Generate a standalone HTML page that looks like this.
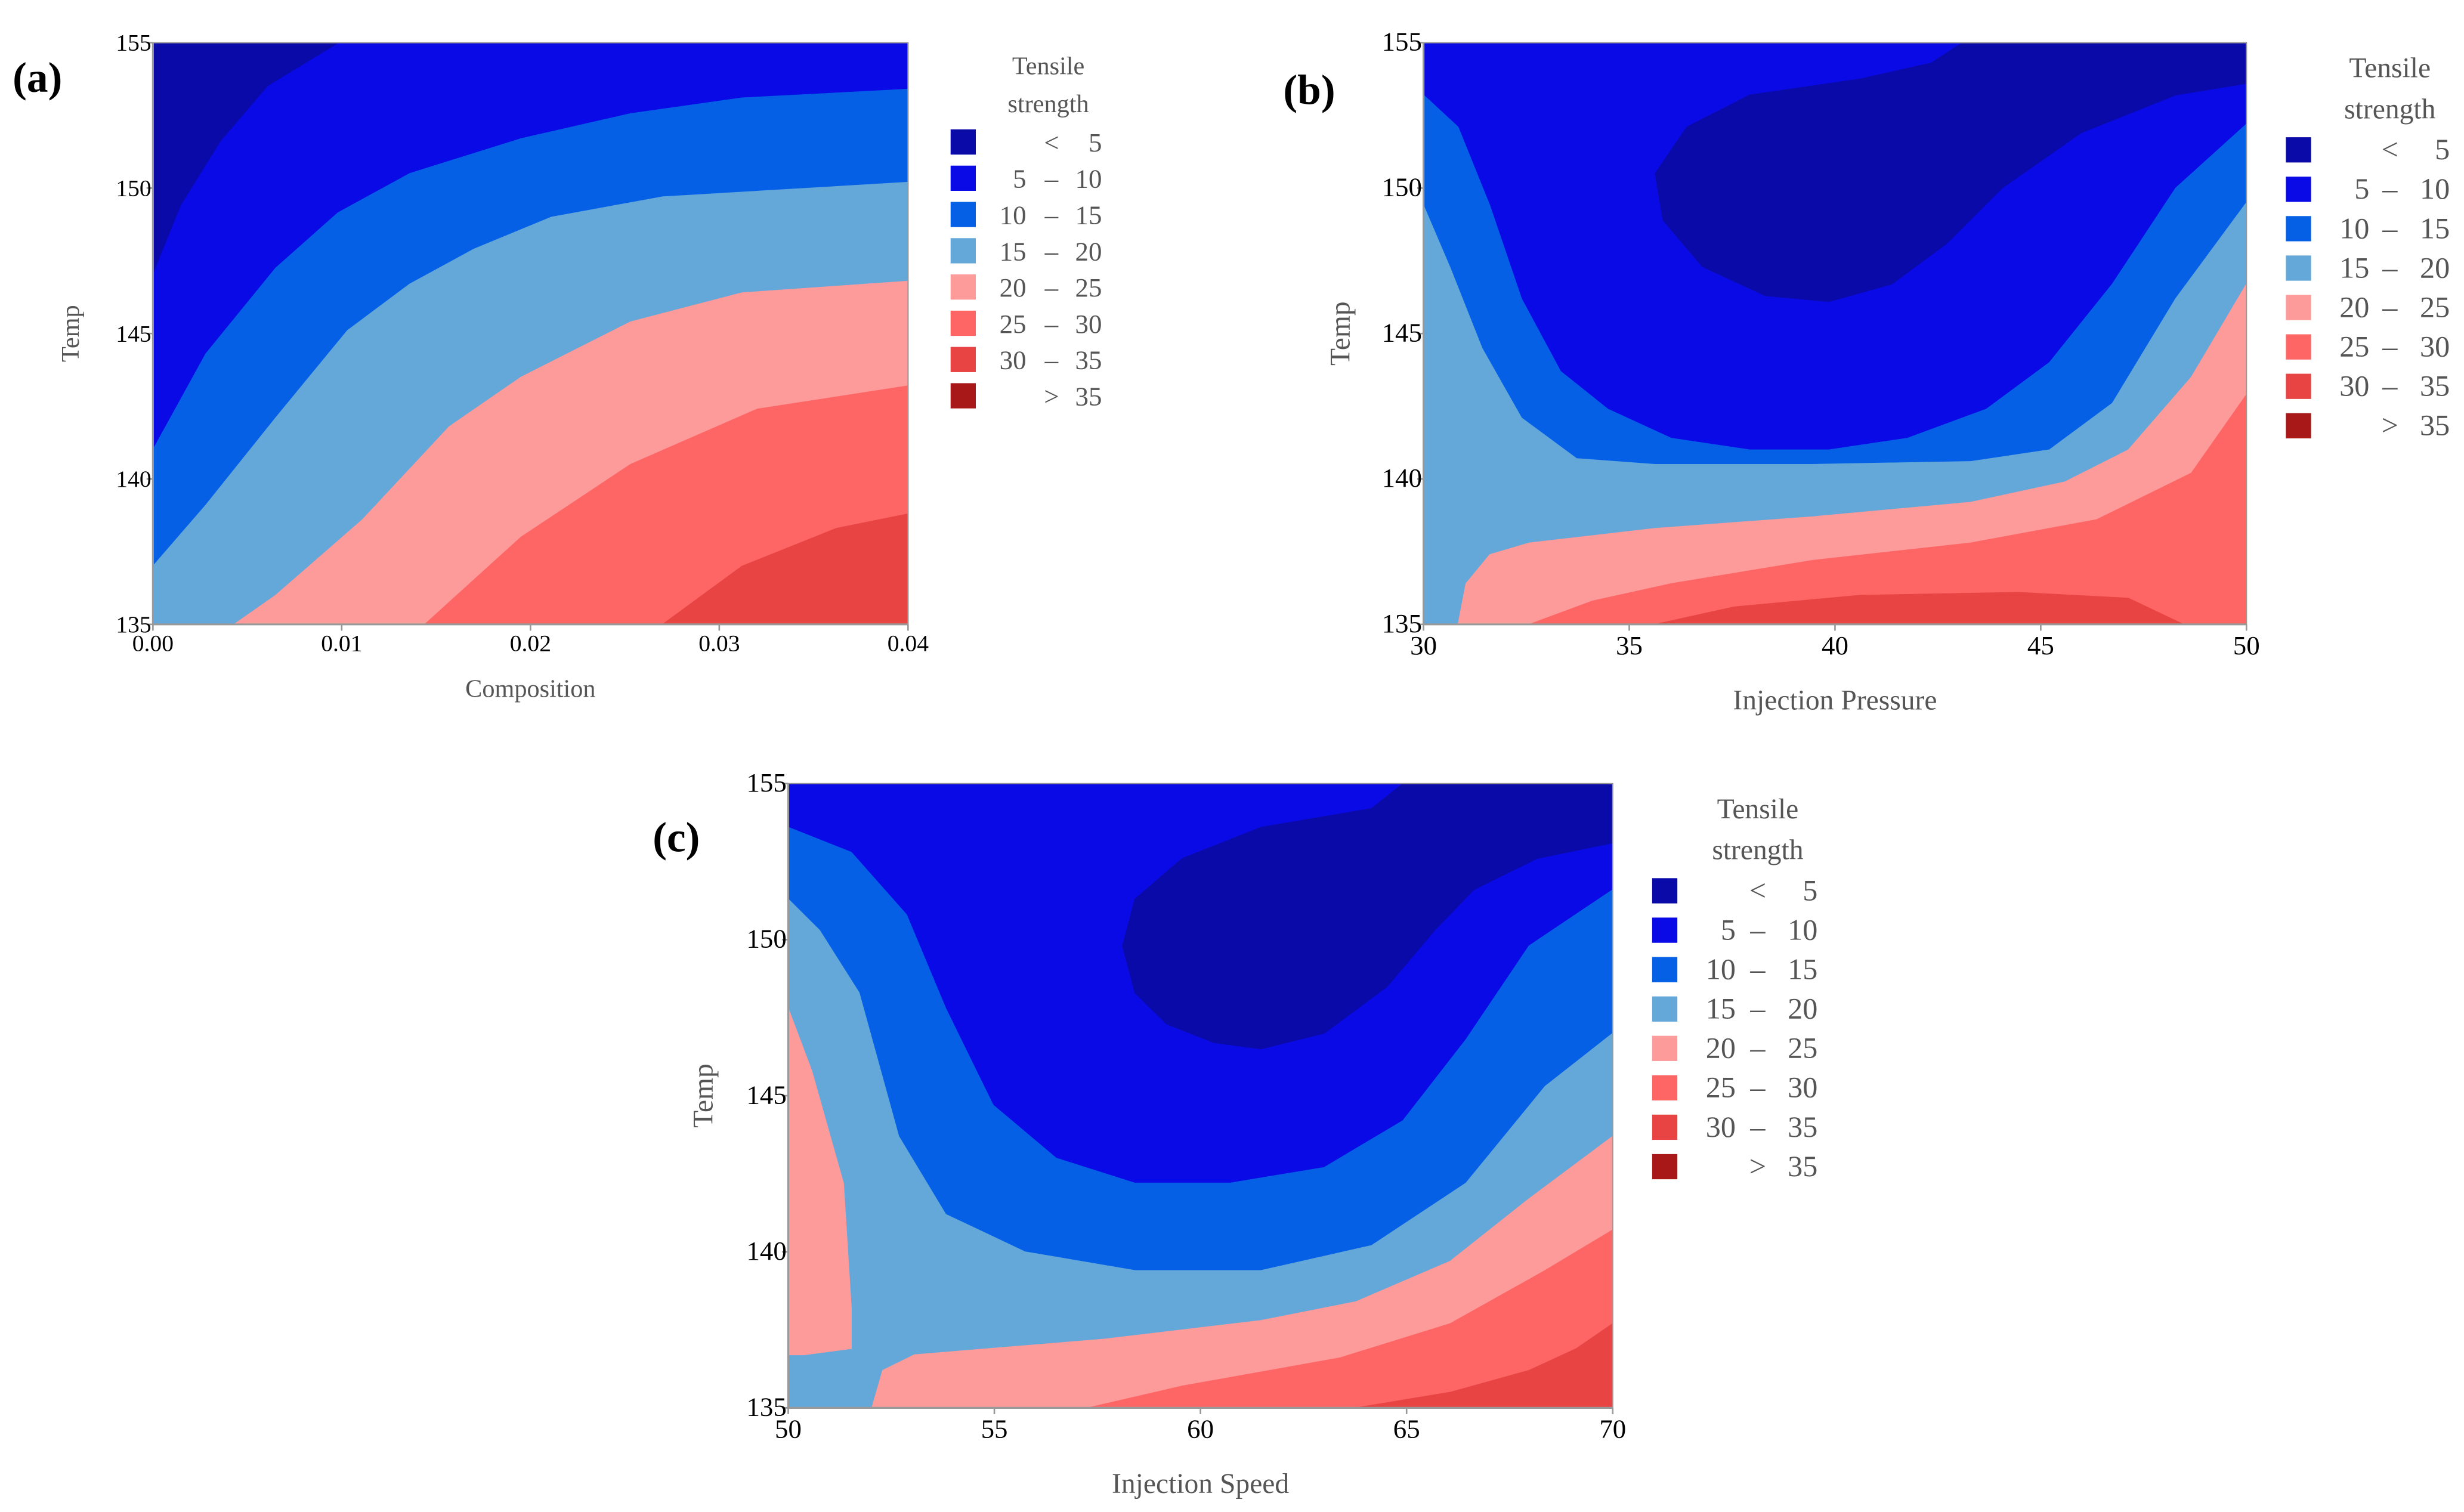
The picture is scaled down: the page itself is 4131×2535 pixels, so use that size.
<!DOCTYPE html>
<html><head><meta charset="utf-8"><style>
html,body{margin:0;padding:0;background:#fff}
svg{display:block}
text{font-family:"Liberation Serif",serif}
</style></head><body>
<svg id="fig" xmlns="http://www.w3.org/2000/svg" width="4131" height="2535" viewBox="0 0 1563 959">
<rect width="1563" height="959" fill="#fff"/>
</svg>
<script>
// ---- shared data ----
const levelColors = ["#0a0aa8","#0a0ae6","#0560e6","#64a8da","#fd9a9a","#fe6666","#e84444","#a81818"];
const legendLo = ["<","5","10","15","20","25","30",">"];
const legendHi = ["5","10","15","20","25","30","35","35"];
const tempTicks = [135,140,145,150,155];

// ---- panel (a) ----
const aXTicks = [0,0.01,0.02,0.03,0.04];
const aXTickLabels = ["0.00","0.01","0.02","0.03","0.04"];
const aLevel5 = [[0,147.0],[0.0015,149.4],[0.0036,151.6],[0.0061,153.5],[0.0099,155],[0.04,155],[0.04,135],[0,135]];
const aLevel10 = [[0,141.0],[0.0028,144.3],[0.0065,147.25],[0.0098,149.15],[0.0136,150.5],[0.0195,151.7],[0.0253,152.56],[0.0312,153.1],[0.04,153.4],[0.04,135],[0,135]];
const aLevel15 = [[0,137.0],[0.0028,139.1],[0.0065,142.1],[0.0103,145.1],[0.0136,146.7],[0.017,147.9],[0.0211,149.0],[0.027,149.7],[0.04,150.2],[0.04,135],[0,135]];
const aLevel20 = [[0.0043,135],[0.0065,136.0],[0.0111,138.6],[0.0157,141.8],[0.0195,143.5],[0.0253,145.4],[0.0312,146.4],[0.04,146.8],[0.04,135]];
const aLevel25 = [[0.0144,135],[0.0195,138.0],[0.0253,140.5],[0.032,142.4],[0.04,143.2],[0.04,135]];
const aLevel30 = [[0.027,135],[0.0312,137.0],[0.0362,138.3],[0.04,138.8],[0.04,135]];

// ---- panel (b) ----
const bXTicks = [30,35,40,45,50];
const bXTickLabels = ["30","35","40","45","50"];
const bDark = [[35.63,150.5],[35.82,148.9],[36.78,147.3],[38.31,146.3],[39.85,146.1],[41.38,146.7],[42.72,148.1],[44.06,150.0],[45.98,151.9],[48.28,153.2],[50,153.6],[50,155],[43.1,155],[42.34,154.3],[40.61,153.75],[37.93,153.2],[36.4,152.1]];
const bLevel10 = [[30,153.2],[30.84,152.1],[31.61,149.4],[32.38,146.2],[33.33,143.7],[34.48,142.4],[36.02,141.4],[37.93,141.0],[39.85,141.0],[41.76,141.4],[43.68,142.4],[45.21,144.0],[46.74,146.7],[48.28,150.0],[50,152.2],[50,135],[30,135]];
const bLevel15 = [[30,149.4],[30.65,147.25],[31.42,144.5],[32.38,142.1],[33.72,140.7],[35.63,140.5],[39.46,140.5],[43.3,140.6],[45.21,141.0],[46.74,142.6],[48.28,146.2],[50,149.5],[50,135],[30,135]];
const bLevel20 = [[30.84,135],[31.03,136.4],[31.61,137.4],[32.57,137.8],[35.63,138.3],[39.46,138.7],[43.3,139.2],[45.59,139.9],[47.13,141.0],[48.66,143.5],[50,146.7],[50,135]];
const bLevel25 = [[32.57,135],[34.1,135.8],[36.02,136.4],[39.46,137.2],[43.3,137.8],[46.36,138.6],[48.66,140.2],[50,142.9],[50,135]];
const bLevel30 = [[35.63,135],[37.55,135.6],[40.61,136.0],[44.45,136.1],[47.13,135.9],[48.47,135]];

// ---- panel (c) ----
const cXTicks = [50,55,60,65,70];
const cXTickLabels = ["50","55","60","65","70"];
const cDark = [[70,153.1],[68.16,152.6],[66.63,151.6],[65.68,150.3],[64.53,148.5],[63.0,147.0],[61.47,146.5],[60.33,146.7],[59.18,147.3],[58.41,148.3],[58.11,149.8],[58.41,151.3],[59.56,152.6],[61.47,153.6],[64.15,154.2],[64.91,155],[70,155]];
const cLevel10 = [[50,153.6],[51.53,152.8],[52.87,150.8],[53.82,147.8],[54.97,144.7],[56.5,143.0],[58.41,142.2],[60.71,142.2],[63.0,142.7],[64.91,144.2],[66.44,146.8],[67.97,149.8],[70,151.6],[70,135],[50,135]];
const cLevel15 = [[50,151.3],[50.76,150.3],[51.72,148.3],[52.68,143.7],[53.82,141.2],[55.74,140.0],[58.41,139.4],[61.47,139.4],[64.15,140.2],[66.44,142.2],[68.36,145.3],[70,147.0],[70,135],[50,135]];
const cLevel20Left = [[50,147.8],[50.57,145.8],[51.34,142.2],[51.53,138.2],[51.53,136.9],[50.38,136.7],[50,136.7]];
const cLevel20 = [[52.03,135],[52.29,136.2],[53.06,136.7],[57.65,137.2],[61.47,137.8],[63.77,138.4],[66.06,139.7],[67.97,141.7],[70,143.7],[70,135]];
const cLevel25 = [[57.27,135],[59.56,135.7],[63.38,136.6],[66.06,137.7],[68.36,139.4],[70,140.7],[70,135]];
const cLevel30 = [[63.77,135],[66.06,135.5],[67.97,136.2],[69.12,136.9],[70,137.7],[70,135]];

const NS = "http://www.w3.org/2000/svg";
const svg = document.getElementById("fig");
function mk(tag, attrs, parent){
  const e = document.createElementNS(NS, tag);
  for (const k in attrs) e.setAttribute(k, attrs[k]);
  (parent||svg).appendChild(e);
  return e;
}
function txt(s, attrs, parent){ const t = mk("text", attrs, parent); t.textContent = s; return t; }

function drawPanel(p){
  const g = mk("g", {});
  
  
  const sx = v => p.x0 + (v - p.xmin) / (p.xmax - p.xmin) * (p.x1 - p.x0);
  const sy = v => p.y1 - (v - 135) / 20 * (p.y1 - p.y0);
  const bg = mk("rect", {x:p.x0, y:p.y0, width:p.x1-p.x0, height:p.y1-p.y0, fill:levelColors[p.bgLevel]}, g);
  
  
  p.layers.forEach(([arr, lvl, nm]) => {
    const poly = mk("polygon", {points: arr.map(([x,t]) => sx(x).toFixed(2)+","+sy(t).toFixed(2)).join(" "), fill: levelColors[lvl], stroke: levelColors[lvl], "stroke-width":0.5}, g);
    
    
  });
  // axes
  const ax = mk("path", {d:`M${p.x0},${p.y0} L${p.x0},${p.y1} L${p.x1},${p.y1}`, fill:"none", stroke:"#999", "stroke-width":1.2}, g);
  
  
  mk("line", {x1:p.x1, y1:p.y0, x2:p.x1, y2:p.y1, stroke:"#999", "stroke-width":0.8}, g);
  mk("line", {x1:p.x0, y1:p.y0, x2:p.x1, y2:p.y0, stroke:"#999", "stroke-width":0.8}, g);
  tempTicks.forEach(t => {
    mk("line", {x1:p.x0-4, y1:sy(t), x2:p.x0, y2:sy(t), stroke:"#999", "stroke-width":1}, g);
    const l = txt(String(t), {x:p.x0-1, y:sy(t)+5, "font-size":p.fs, "text-anchor":"end", fill:"#000"}, g);
    
    
  });
  p.xTicks.forEach((v,i) => {
    mk("line", {x1:sx(v), y1:p.y1, x2:sx(v), y2:p.y1+4, stroke:"#999", "stroke-width":1}, g);
    const l = txt(p.xLabels[i], {x:sx(v), y:p.y1+p.fs+2, "font-size":p.fs, "text-anchor":"middle", fill:"#000"}, g);
    
    
  });
  const xt = txt(p.xTitle, {x:(p.x0+p.x1)/2, y:p.xTitleY, "font-size":p.fs+1, "text-anchor":"middle", fill:"#555"}, g);
  
  
  const yt = txt("Temp", {x:0, y:0, "font-size":p.fs+1, "text-anchor":"middle", fill:"#555", transform:`translate(${p.yTitleX},${(p.y0+p.y1)/2}) rotate(-90)`}, g);
  
  
  const pl = txt(p.label, {x:p.labX, y:p.labY, "font-size":27, "font-weight":"bold", fill:"#000"}, g);
  
  
  // legend
  const lg = mk("g", {}, g);
  
  
  txt("Tensile", {x:p.lgTitleX, y:p.lgTitleY, "font-size":p.fs+1, "text-anchor":"middle", fill:"#555"}, lg);
  txt("strength", {x:p.lgTitleX, y:p.lgTitleY+p.lgTitleGap, "font-size":p.fs+1, "text-anchor":"middle", fill:"#555"}, lg);
  levelColors.forEach((c,i) => {
    const cy = p.lgY0 + i*p.lgStep;
    const e = mk("g", {}, lg);
    
    
    mk("rect", {x:p.lgSqX, y:cy-8, width:16, height:16, fill:c}, e);
    const fs = p.fs+2;
    if (i===0 || i===7) {
      txt(legendLo[i], {x:p.lgDash, y:cy+6, "font-size":fs, "text-anchor":"middle", fill:"#555"}, e);
    } else {
      txt(legendLo[i], {x:p.lgLo, y:cy+6, "font-size":fs, "text-anchor":"end", fill:"#555"}, e);
      txt("–", {x:p.lgDash, y:cy+6, "font-size":fs, "text-anchor":"middle", fill:"#555"}, e);
    }
    txt(legendHi[i], {x:p.lgHi, y:cy+6, "font-size":fs, "text-anchor":"end", fill:"#555"}, e);
  });
}

drawPanel({id:"a", x0:97, x1:576, y0:27, y1:396, xmin:0, xmax:0.04, bgLevel:0, fs:15,
  layers:[[aLevel5,1,"5-10"],[aLevel10,2,"10-15"],[aLevel15,3,"15-20"],[aLevel20,4,"20-25"],[aLevel25,5,"25-30"],[aLevel30,6,"30-35"]],
  xTicks:aXTicks, xLabels:aXTickLabels, xTitle:"Composition", xTitleY:442, yTitleX:50, label:"(a)", labX:8, labY:58,
  lgTitleX:665, lgTitleY:47, lgTitleGap:24, lgSqX:603, lgY0:90, lgStep:23, lgLo:651, lgDash:667, lgHi:699});
drawPanel({id:"b", x0:903, x1:1425, y0:27, y1:396, xmin:30, xmax:50, bgLevel:1, fs:17,
  layers:[[bDark,0,"lt5"],[bLevel10,2,"10-15"],[bLevel15,3,"15-20"],[bLevel20,4,"20-25"],[bLevel25,5,"25-30"],[bLevel30,6,"30-35"]],
  xTicks:bXTicks, xLabels:bXTickLabels, xTitle:"Injection Pressure", xTitleY:450, yTitleX:856, label:"(b)", labX:814, labY:66,
  lgTitleX:1516, lgTitleY:49, lgTitleGap:26, lgSqX:1450, lgY0:95, lgStep:25, lgLo:1503, lgDash:1516, lgHi:1554});
drawPanel({id:"c", x0:500, x1:1023, y0:497, y1:893, xmin:50, xmax:70, bgLevel:1, fs:17,
  layers:[[cDark,0,"lt5"],[cLevel10,2,"10-15"],[cLevel15,3,"15-20"],[cLevel20Left,4,"20-25-left"],[cLevel20,4,"20-25"],[cLevel25,5,"25-30"],[cLevel30,6,"30-35"]],
  xTicks:cXTicks, xLabels:cXTickLabels, xTitle:"Injection Speed", xTitleY:947, yTitleX:452, label:"(c)", labX:414, labY:540,
  lgTitleX:1115, lgTitleY:519, lgTitleGap:26, lgSqX:1048, lgY0:565, lgStep:25, lgLo:1101, lgDash:1115, lgHi:1153});
</script>
</body></html>
